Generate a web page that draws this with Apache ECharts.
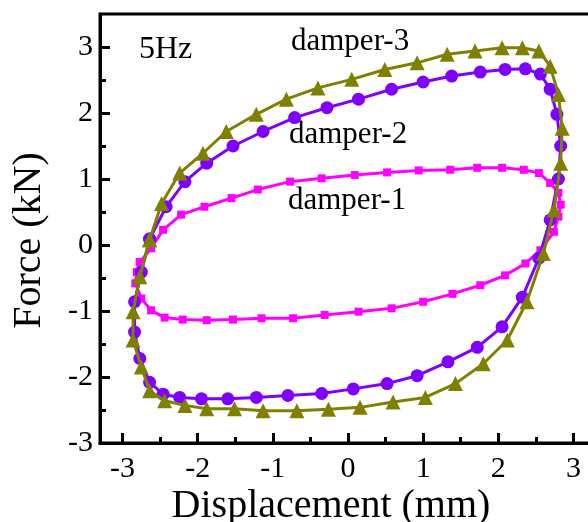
<!DOCTYPE html>
<html>
<head>
<meta charset="utf-8">
<script src="https://cdn.jsdelivr.net/npm/echarts@6/dist/echarts.min.js"></script>
<style>
  html, body { margin: 0; padding: 0; background: #fff; }
  #chart { width: 588px; height: 522px; }
</style>
</head>
<body>
<div id="chart"></div>
<script>
// Hysteresis loops (force vs displacement) of three dampers at 5 Hz
const xTicks = [-3, -2, -1, 0, 1, 2, 3];
const xMinorTicks = [-2.5, -1.5, -0.5, 0.5, 1.5, 2.5];
const yTicks = [-3, -2, -1, 0, 1, 2, 3];
const yMinorTicks = [-2.5, -1.5, -0.5, 0.5, 1.5, 2.5];

const dispDamper1 = [-2.77, -2.62, -2.46, -2.22, -1.91, -1.55, -1.20, -0.77, -0.35, 0.09, 0.52, 0.94, 1.36, 1.72, 2.05, 2.34, 2.54, 2.69, 2.80, 2.83, 2.80, 2.74, 2.56, 2.36, 2.09, 1.76, 1.39, 1.00, 0.58, 0.14, -0.31, -0.73, -1.15, -1.53, -1.88, -2.20, -2.44, -2.62, -2.75, -2.83, -2.81];
const forceDamper1 = [-0.26, -0.05, 0.23, 0.46, 0.58, 0.71, 0.84, 0.96, 1.01, 1.06, 1.10, 1.13, 1.14, 1.17, 1.17, 1.14, 1.09, 0.94, 0.79, 0.61, 0.43, 0.20, -0.08, -0.28, -0.46, -0.61, -0.74, -0.86, -0.96, -1.01, -1.06, -1.11, -1.11, -1.13, -1.14, -1.13, -1.10, -0.99, -0.81, -0.58, -0.41];

const dispDamper2 = [-2.64, -2.42, -2.17, -1.88, -1.53, -1.13, -0.71, -0.28, 0.14, 0.58, 1.00, 1.38, 1.76, 2.09, 2.36, 2.56, 2.69, 2.78, 2.83, 2.80, 2.69, 2.54, 2.32, 2.05, 1.72, 1.33, 0.92, 0.52, 0.07, -0.35, -0.80, -1.22, -1.60, -1.95, -2.24, -2.46, -2.64, -2.77, -2.84, -2.84, -2.75];
const forceDamper2 = [0.09, 0.58, 0.96, 1.24, 1.50, 1.72, 1.93, 2.08, 2.21, 2.36, 2.47, 2.56, 2.62, 2.66, 2.67, 2.59, 2.36, 1.98, 1.50, 1.00, 0.38, -0.20, -0.79, -1.24, -1.55, -1.77, -1.98, -2.10, -2.18, -2.25, -2.28, -2.31, -2.33, -2.33, -2.31, -2.26, -2.08, -1.72, -1.32, -0.86, -0.41];

const dispDamper3 = [-2.64, -2.48, -2.24, -1.93, -1.62, -1.22, -0.82, -0.40, 0.05, 0.49, 0.92, 1.32, 1.69, 2.05, 2.32, 2.54, 2.69, 2.80, 2.85, 2.83, 2.74, 2.60, 2.38, 2.12, 1.80, 1.43, 1.03, 0.60, 0.16, -0.26, -0.68, -1.13, -1.51, -1.88, -2.17, -2.44, -2.64, -2.75, -2.86, -2.86, -2.77];
const forceDamper3 = [0.08, 0.63, 1.09, 1.39, 1.72, 1.98, 2.21, 2.38, 2.51, 2.66, 2.76, 2.89, 2.94, 2.99, 2.99, 2.94, 2.71, 2.28, 1.77, 1.24, 0.53, -0.13, -0.86, -1.44, -1.80, -2.10, -2.31, -2.38, -2.46, -2.49, -2.51, -2.51, -2.48, -2.48, -2.43, -2.36, -2.21, -1.85, -1.44, -1.01, -0.48];

const FONT = 'Liberation Serif';

// pair x/y arrays and close the loop back to its first point
function loop(xs, ys) {
  const pts = xs.map((x, i) => [x, ys[i]]);
  pts.push(pts[0].slice());
  return pts;
}

const chart = echarts.init(document.getElementById('chart'), null, { renderer: 'canvas' });

const axisLineStyle = { color: '#000', width: 3 };

chart.setOption({
  animation: false,
  backgroundColor: '#fff',
  grid: {
    left: 100, right: -8, top: 14, bottom: 79,
    outerBoundsMode: 'none', containLabel: false,
    show: true, borderColor: '#000', borderWidth: 3, backgroundColor: 'transparent'
  },
  xAxis: [
    {
      type: 'value', min: -3.3, max: 3.3, position: 'bottom',
      name: 'Displacement (mm)', nameLocation: 'middle', nameGap: 43, nameMoveOverlap: false,
      nameTextStyle: { fontFamily: FONT, fontSize: 40, color: '#000', padding: [0, 34, 0, 0] },
      axisLine: { show: true, onZero: false, lineStyle: axisLineStyle },
      axisTick: { show: true, inside: true, length: 10, lineStyle: axisLineStyle, customValues: xTicks },
      axisLabel: { show: true, margin: 11, fontFamily: FONT, fontSize: 30, color: '#000', customValues: xTicks },
      splitLine: { show: false }
    },
    {
      type: 'value', min: -3.3, max: 3.3, position: 'bottom', gridIndex: 0,
      axisLine: { show: false, onZero: false },
      axisTick: { show: true, inside: true, length: 6, lineStyle: axisLineStyle, customValues: xMinorTicks },
      axisLabel: { show: false },
      splitLine: { show: false }
    }
  ],
  yAxis: [
    {
      type: 'value', min: -3, max: 3.5, position: 'left',
      name: 'Force (kN)', nameLocation: 'middle', nameGap: 51, nameMoveOverlap: false,
      nameTextStyle: { fontFamily: FONT, fontSize: 40, color: '#000', padding: [0, 24, 0, 0] },
      axisLine: { show: true, onZero: false, lineStyle: axisLineStyle },
      axisTick: { show: true, inside: true, length: 10, lineStyle: axisLineStyle, customValues: yTicks },
      axisLabel: { show: true, margin: 7, fontFamily: FONT, fontSize: 30, color: '#000', customValues: yTicks },
      splitLine: { show: false }
    },
    {
      type: 'value', min: -3, max: 3.5, position: 'left', gridIndex: 0,
      axisLine: { show: false, onZero: false },
      axisTick: { show: true, inside: true, length: 6, lineStyle: axisLineStyle, customValues: yMinorTicks },
      axisLabel: { show: false },
      splitLine: { show: false }
    }
  ],
  series: [
    {
      name: 'damper-1', type: 'line', data: loop(dispDamper1, forceDamper1),
      symbol: 'rect', symbolSize: 8, showSymbol: true,
      lineStyle: { color: '#FF00FF', width: 3 },
      itemStyle: { color: '#FF00FF' }, z: 3
    },
    {
      name: 'damper-2', type: 'line', data: loop(dispDamper2, forceDamper2),
      symbol: 'circle', symbolSize: 13, showSymbol: true,
      lineStyle: { color: '#8000FF', width: 3 },
      itemStyle: { color: '#8000FF' }, z: 4
    },
    {
      name: 'damper-3', type: 'line', data: loop(dispDamper3, forceDamper3),
      symbol: 'triangle', symbolSize: 15, showSymbol: true,
      lineStyle: { color: '#808000', width: 3 },
      itemStyle: { color: '#808000' }, z: 5
    }
  ],
  graphic: [
    { type: 'text', left: 139, top: 34, style: { text: '5Hz', fontFamily: FONT, fontSize: 32, fill: '#000' } },
    { type: 'text', left: 291, top: 26, style: { text: 'damper-3', fontFamily: FONT, fontSize: 31, fill: '#000' } },
    { type: 'text', left: 289, top: 119, style: { text: 'damper-2', fontFamily: FONT, fontSize: 31, fill: '#000' } },
    { type: 'text', left: 288, top: 185, style: { text: 'damper-1', fontFamily: FONT, fontSize: 31, fill: '#000' } }
  ]
});
</script>
</body>
</html>
